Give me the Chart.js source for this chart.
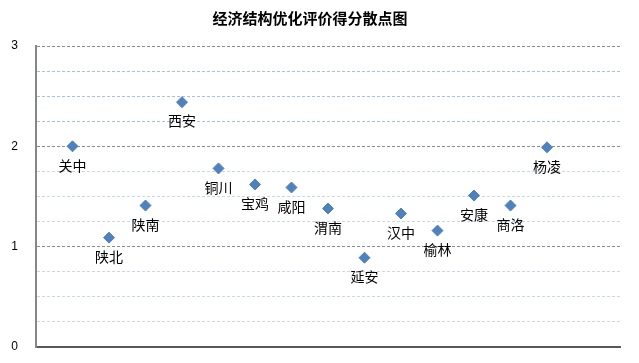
<!DOCTYPE html>
<html>
<head>
<meta charset="utf-8">
<script src="https://cdn.jsdelivr.net/npm/chart.js@4.4.1/dist/chart.umd.min.js"></script>
<style>
  html, body { margin: 0; padding: 0; background: #fff; }
  #wrap { width: 639px; height: 363px; }
</style>
</head>
<body>
<div id="wrap"><canvas id="chartCanvas"></canvas></div>
<script>
// 地区名称和得分
const regions = ['关中', '陕北', '陕南', '西安', '铜川', '宝鸡', '咸阳', '渭南', '延安', '汉中', '榆林', '安康', '商洛', '杨凌'];
const scores = [2.00, 1.09, 1.41, 2.44, 1.78, 1.62, 1.59, 1.38, 0.89, 1.33, 1.16, 1.51, 1.41, 1.99];
const yTicks = [0, 1, 2, 3];

const cjk = '"Noto Sans CJK SC", "Noto Sans", sans-serif';

// 在每个点下方写上地区名
const pointLabels = {
    id: 'pointLabels',
    afterDatasetsDraw(chart) {
        const ctx = chart.ctx;
        const meta = chart.getDatasetMeta(0);
        ctx.save();
        ctx.font = '14px ' + cjk;
        ctx.fillStyle = '#000';
        ctx.textAlign = 'center';
        ctx.textBaseline = 'middle';
        meta.data.forEach((pt, i) => {
            ctx.fillText(regions[i], pt.x, pt.y + 19);
        });
        ctx.restore();
    }
};

const ctx = document.getElementById('chartCanvas').getContext('2d');
new Chart(ctx, {
    type: 'scatter',
    data: {
        datasets: [{
            label: '得分',
            data: scores.map((v, i) => ({ x: i + 1, y: v })),
            pointStyle: 'rectRot',
            pointRadius: 5.5,
            backgroundColor: '#4f81bd',
            borderColor: '#4f81bd',
            borderWidth: 1
        }]
    },
    options: {
        responsive: true,
        maintainAspectRatio: false,
        animation: false,
        layout: { padding: { left: 0, right: 19, bottom: 8, top: 0 } },
        plugins: {
            legend: { display: false },
            tooltip: { enabled: false },
            title: {
                display: true,
                text: '经济结构优化评价得分散点图',
                color: '#000',
                font: { family: cjk, size: 15, weight: 'bold' },
                padding: { top: 9, bottom: 19 }
            }
        },
        scales: {
            x: {
                type: 'linear',
                min: 0,
                max: 16,
                ticks: { display: false },
                grid: { display: false },
                border: { display: true, color: '#595959', width: 2 }
            },
            y: {
                min: 0,
                max: 3,
                ticks: {
                    stepSize: 0.25,
                    color: '#000',
                    font: { family: '"Liberation Sans", Arial, sans-serif', size: 12 },
                    padding: 18,
                    callback: v => yTicks.includes(v) ? String(v) : ''
                },
                grid: {
                    drawTicks: false,
                    lineWidth: 1,
                    color: c => {
                        const v = c.tick ? c.tick.value : 0;
                        if (Number.isInteger(v)) return '#8c8c8c';
                        return v > 2 ? '#a9c0e6' : '#c9d6ef';
                    }
                },
                border: { display: true, color: '#868686', width: 2, dash: [3, 2] },
                afterFit: s => {
                    s.width = 36;
                    s.paddingTop = 0;
                    s.paddingBottom = 0;
                }
            }
        }
    },
    plugins: [pointLabels]
});
</script>
</body>
</html>
